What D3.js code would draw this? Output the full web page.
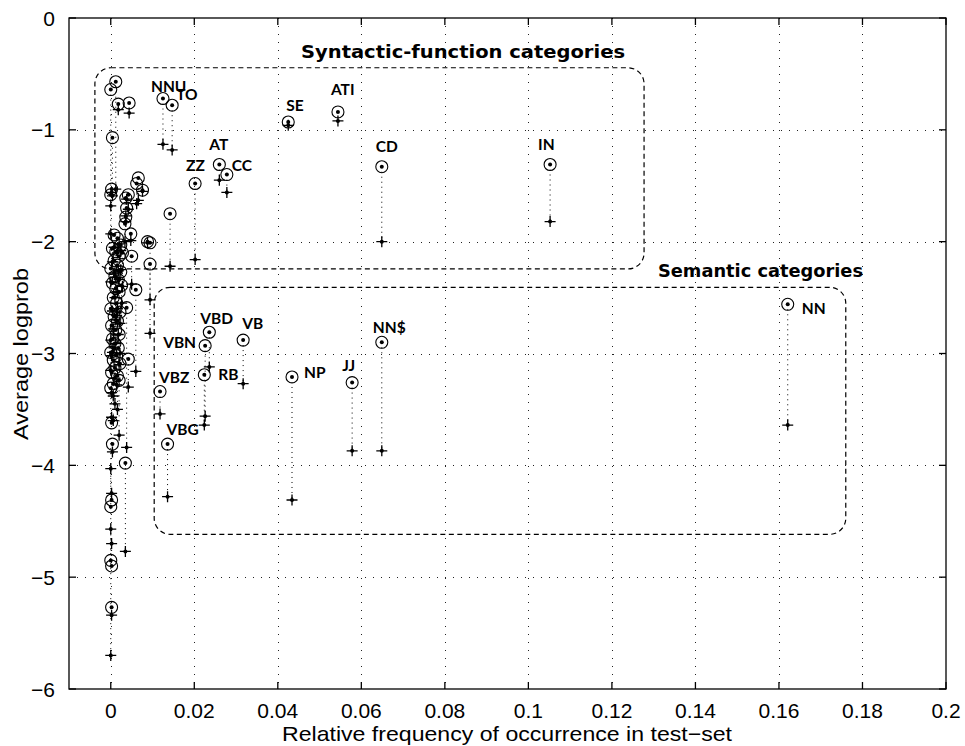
<!DOCTYPE html>
<html>
<head>
<meta charset="utf-8">
<script src="https://cdn.jsdelivr.net/npm/d3@7"></script>
<style>
body { margin: 0; background: #fff; }
</style>
</head>
<body>
<div id="content"></div>
<script>
// labelled categories: frequency, observed logprob (circle), predicted logprob (plus)
var catNames = ['NNU', 'TO', 'SE', 'ATI', 'AT', 'CC', 'ZZ', 'CD', 'IN', 'NN',
                'VBD', 'VB', 'VBN', 'RB', 'VBZ', 'VBG', 'NP', 'JJ', 'NN$'];
var catFreq = [0.0125, 0.0147, 0.0425, 0.0544, 0.0260, 0.0278, 0.0202, 0.0649, 0.1052, 0.1621,
               0.0236, 0.0317, 0.0226, 0.0224, 0.0118, 0.0136, 0.0434, 0.0578, 0.0649];
var catObs = [-0.72, -0.78, -0.93, -0.84, -1.31, -1.40, -1.48, -1.33, -1.31, -2.56,
              -2.81, -2.88, -2.93, -3.19, -3.34, -3.81, -3.21, -3.26, -2.90];
var catPred = [-1.13, -1.18, -0.96, -0.92, -1.45, -1.56, -2.16, -2.00, -1.82, -3.64,
               -3.12, -3.27, -3.56, -3.64, -3.54, -4.28, -4.31, -3.87, -3.87];

// unlabelled categories
var otherFreq = [0.0012, 0.0000, 0.0018, 0.0044, 0.0004, 0.0002, 0.0000, 0.0066, 0.0062, 0.0076,
                 0.0042, 0.0036, 0.0038, 0.0036, 0.0034, 0.0142, 0.0094, 0.0088, 0.0094, 0.0048,
                 0.0050, 0.0060, 0.0038, 0.0042, 0.0020, 0.0035,
                 0.0008, 0.0016, 0.0024, 0.0004, 0.0012, 0.0020, 0.0028, 0.0008, 0.0016, 0.0000,
                 0.0024, 0.0010, 0.0018, 0.0004, 0.0026, 0.0012, 0.0020, 0.0006, 0.0014, 0.0000,
                 0.0022, 0.0008, 0.0016, 0.0002, 0.0012, 0.0020, 0.0004, 0.0010, 0.0018, 0.0000,
                 0.0014, 0.0006, 0.0022, 0.0010, 0.0002, 0.0016, 0.0006, 0.0000,
                 0.0002, 0.0004, 0.0002, 0.0000, 0.0000, 0.0002, 0.0002];
var otherObs = [-0.57, -0.64, -0.77, -0.76, -1.07, -1.53, -1.58, -1.43, -1.48, -1.54,
                -1.58, -1.61, -1.70, -1.78, -1.84, -1.75, -2.01, -2.00, -2.20, -1.93,
                -2.13, -2.43, -2.59, -3.05, -3.24, -3.98,
                -1.94, -1.97, -2.03, -2.06, -2.09, -2.13, -2.10, -2.17, -2.21, -2.24,
                -2.27, -2.31, -2.34, -2.37, -2.39, -2.42, -2.45, -2.50, -2.55, -2.60,
                -2.63, -2.67, -2.71, -2.75, -2.79, -2.83, -2.87, -2.91, -2.95, -2.99,
                -3.02, -3.06, -3.09, -3.13, -3.17, -3.20, -3.27, -3.31,
                -3.62, -3.81, -4.31, -4.37, -4.85, -4.90, -5.27];
var otherPred = [-1.53, -1.68, -0.82, -0.85, -1.59, -1.56, -1.93, -1.63, -1.66, -1.55,
                 -1.71, -1.77, -1.62, -1.82, -2.00, -2.22, -2.52, -2.01, -2.82, -1.99,
                 -2.38, -3.16, -3.84, -3.30, -3.73, -4.77,
                 -2.05, -2.10, -2.25, -2.18, -2.32, -2.02, -2.40, -2.28, -2.45, -2.36,
                 -2.08, -2.50, -2.26, -2.62, -2.55, -2.70, -2.34, -2.78, -2.66, -2.88,
                 -2.73, -2.95, -2.60, -3.02, -2.91, -3.10, -2.99, -3.22, -2.83, -3.15,
                 -3.28, -3.38, -3.00, -3.45, -3.35, -3.50, -3.60, -5.70,
                 -3.57, -3.88, -4.25, -4.03, -4.57, -4.70, -5.34];

var xTicks = [0, 0.02, 0.04, 0.06, 0.08, 0.1, 0.12, 0.14, 0.16, 0.18, 0.2];
var yTicks = [0, -1, -2, -3, -4, -5, -6];

// group boxes in data units
var groupNames = ['Syntactic-function categories', 'Semantic categories'];
var groupX0 = [-0.0038, 0.0104];
var groupX1 = [0.1277, 0.1760];
var groupYTop = [-0.445, -2.408];
var groupYBot = [-2.244, -4.617];

// label placement relative to circle (pixels)
var labelOffset = {
    'NNU': [-12, -7], 'TO': [4, -5], 'SE': [-2, -11], 'ATI': [-7, -17], 'AT': [-10, -15],
    'CC': [5, -4], 'ZZ': [-9, -13], 'CD': [-6, -15], 'IN': [-12, -15], 'NN': [14, 10],
    'VBD': [-9, -8], 'VB': [-1, -11], 'VBN': [-42, 2], 'RB': [14, 5], 'VBZ': [-1, -9],
    'VBG': [-1, -9], 'NP': [12, 1], 'JJ': [-10, -12], 'NN$': [-9, -9]
};
// title placement: left x and stretched width (pixels)
var groupTitleX = [301, 658];
var groupTitleW = [324, 205];

var W = 965, H = 746;
var mLeft = 69, mRight = 946, mTop = 18, mBottom = 689;

var svg = d3.select('#content').append('svg')
    .attr('width', W).attr('height', H);

var x = d3.scaleLinear().domain([-0.01, 0.2]).range([mLeft, mRight]);
var y = d3.scaleLinear().domain([-6, 0]).range([mBottom, mTop]);

function fmtNum(v){
    return String(v).replace('-', '\u2212');
}

// grid
var grid = svg.append('g').attr('stroke', '#222').attr('stroke-width', 1)
    .attr('stroke-dasharray', '1,7');
grid.selectAll('line.gx').data(xTicks.filter(function(t){ return t < 0.2; }))
    .enter().append('line')
    .attr('x1', function(t){ return Math.round(x(t)) + 0.5; })
    .attr('x2', function(t){ return Math.round(x(t)) + 0.5; })
    .attr('y1', mTop).attr('y2', mBottom);
grid.selectAll('line.gy').data(yTicks.filter(function(t){ return t > -6 && t < 0; }))
    .enter().append('line')
    .attr('y1', function(t){ return Math.round(y(t)) + 0.5; })
    .attr('y2', function(t){ return Math.round(y(t)) + 0.5; })
    .attr('x1', mLeft).attr('x2', mRight);

// dashed group boxes
var groups = groupNames.map(function(n, i){
    return {name: n, x0: groupX0[i], x1: groupX1[i], y0: groupYTop[i], y1: groupYBot[i]};
});
svg.append('g').selectAll('rect').data(groups).enter().append('rect')
    .attr('x', function(g){ return x(g.x0); })
    .attr('y', function(g){ return y(g.y0); })
    .attr('width', function(g){ return x(g.x1) - x(g.x0); })
    .attr('height', function(g){ return y(g.y1) - y(g.y0); })
    .attr('rx', 16).attr('ry', 16)
    .attr('fill', 'none').attr('stroke', '#000').attr('stroke-width', 1.2)
    .attr('stroke-dasharray', '5,3.5');

svg.append('g').selectAll('text').data(groups).enter().append('text')
    .attr('x', function(g, i){ return groupTitleX[i]; })
    .attr('y', function(g){ return y(g.y0) - 10; })
    .attr('font-family', '"DejaVu Sans", sans-serif').attr('font-weight', 'bold')
    .attr('font-size', 18)
    .attr('textLength', function(g, i){ return groupTitleW[i]; })
    .attr('lengthAdjust', 'spacingAndGlyphs')
    .text(function(g){ return g.name; });

// build points
var pts = [];
catNames.forEach(function(n, i){
    pts.push({name: n, f: catFreq[i], obs: catObs[i], pred: catPred[i]});
});
otherFreq.forEach(function(f, i){
    pts.push({name: null, f: f, obs: otherObs[i], pred: otherPred[i]});
});

// dotted connectors
svg.append('g').selectAll('line').data(pts).enter().append('line')
    .attr('x1', function(d){ return x(d.f); })
    .attr('x2', function(d){ return x(d.f); })
    .attr('y1', function(d){ return y(d.obs); })
    .attr('y2', function(d){ return y(d.pred); })
    .attr('stroke', '#000').attr('stroke-width', 1)
    .attr('stroke-dasharray', '1,4');

// circles with dot
var cg = svg.append('g');
cg.selectAll('circle.o').data(pts).enter().append('circle')
    .attr('cx', function(d){ return x(d.f); })
    .attr('cy', function(d){ return y(d.obs); })
    .attr('r', 6).attr('fill', 'none').attr('stroke', '#000').attr('stroke-width', 1.1);
cg.selectAll('circle.d').data(pts).enter().append('circle')
    .attr('cx', function(d){ return x(d.f); })
    .attr('cy', function(d){ return y(d.obs); })
    .attr('r', 2).attr('fill', '#000');

// plus with dot
var pg = svg.append('g').attr('stroke', '#000').attr('stroke-width', 1.3);
pg.selectAll('path').data(pts).enter().append('path')
    .attr('d', function(d){
        var px = x(d.f), py = y(d.pred), a = 5.5;
        return 'M' + (px - a) + ',' + py + 'H' + (px + a) + 'M' + px + ',' + (py - a) + 'V' + (py + a);
    });
svg.append('g').selectAll('circle').data(pts).enter().append('circle')
    .attr('cx', function(d){ return x(d.f); })
    .attr('cy', function(d){ return y(d.pred); })
    .attr('r', 2).attr('fill', '#000');

// category labels
svg.append('g').selectAll('text').data(pts.filter(function(d){ return d.name; }))
    .enter().append('text')
    .attr('x', function(d){ return x(d.f) + labelOffset[d.name][0]; })
    .attr('y', function(d){ return y(d.obs) + labelOffset[d.name][1]; })
    .attr('font-family', 'Lato, sans-serif').attr('font-weight', 'bold')
    .attr('font-size', 15.5)
    .text(function(d){ return d.name; });

// axes box with inward ticks
var ax = svg.append('g').attr('stroke', '#000').attr('stroke-width', 1.3).attr('fill', 'none');
ax.append('rect').attr('x', mLeft).attr('y', mTop)
    .attr('width', mRight - mLeft).attr('height', mBottom - mTop);
var tl = 7;
xTicks.forEach(function(t){
    ax.append('line').attr('x1', x(t)).attr('x2', x(t)).attr('y1', mBottom).attr('y2', mBottom - tl);
    ax.append('line').attr('x1', x(t)).attr('x2', x(t)).attr('y1', mTop).attr('y2', mTop + tl);
});
yTicks.forEach(function(t){
    ax.append('line').attr('y1', y(t)).attr('y2', y(t)).attr('x1', mLeft).attr('x2', mLeft + tl);
    ax.append('line').attr('y1', y(t)).attr('y2', y(t)).attr('x1', mRight).attr('x2', mRight - tl);
});

// tick labels
var lab = svg.append('g').attr('font-family', '"Liberation Sans", Arial, sans-serif')
    .attr('font-size', 21).attr('fill', '#000');
lab.selectAll('text.xl').data(xTicks).enter().append('text')
    .attr('x', function(t){ return x(t); })
    .attr('y', mBottom + 29)
    .attr('text-anchor', 'middle')
    .text(function(t){ return fmtNum(t); });
lab.selectAll('text.yl').data(yTicks).enter().append('text')
    .attr('x', mLeft - 14)
    .attr('y', function(t){ return y(t) + 7.5; })
    .attr('text-anchor', 'end')
    .text(function(t){ return fmtNum(t); });

// axis titles
lab.append('text').attr('x', 282).attr('y', 741)
    .attr('font-size', 21)
    .attr('textLength', 450).attr('lengthAdjust', 'spacingAndGlyphs')
    .text('Relative frequency of occurrence in test\u2212set');
lab.append('text')
    .attr('transform', 'translate(28,440) rotate(-90)')
    .attr('font-size', 20)
    .attr('textLength', 172).attr('lengthAdjust', 'spacingAndGlyphs')
    .text('Average logprob');
</script>
</body>
</html>
